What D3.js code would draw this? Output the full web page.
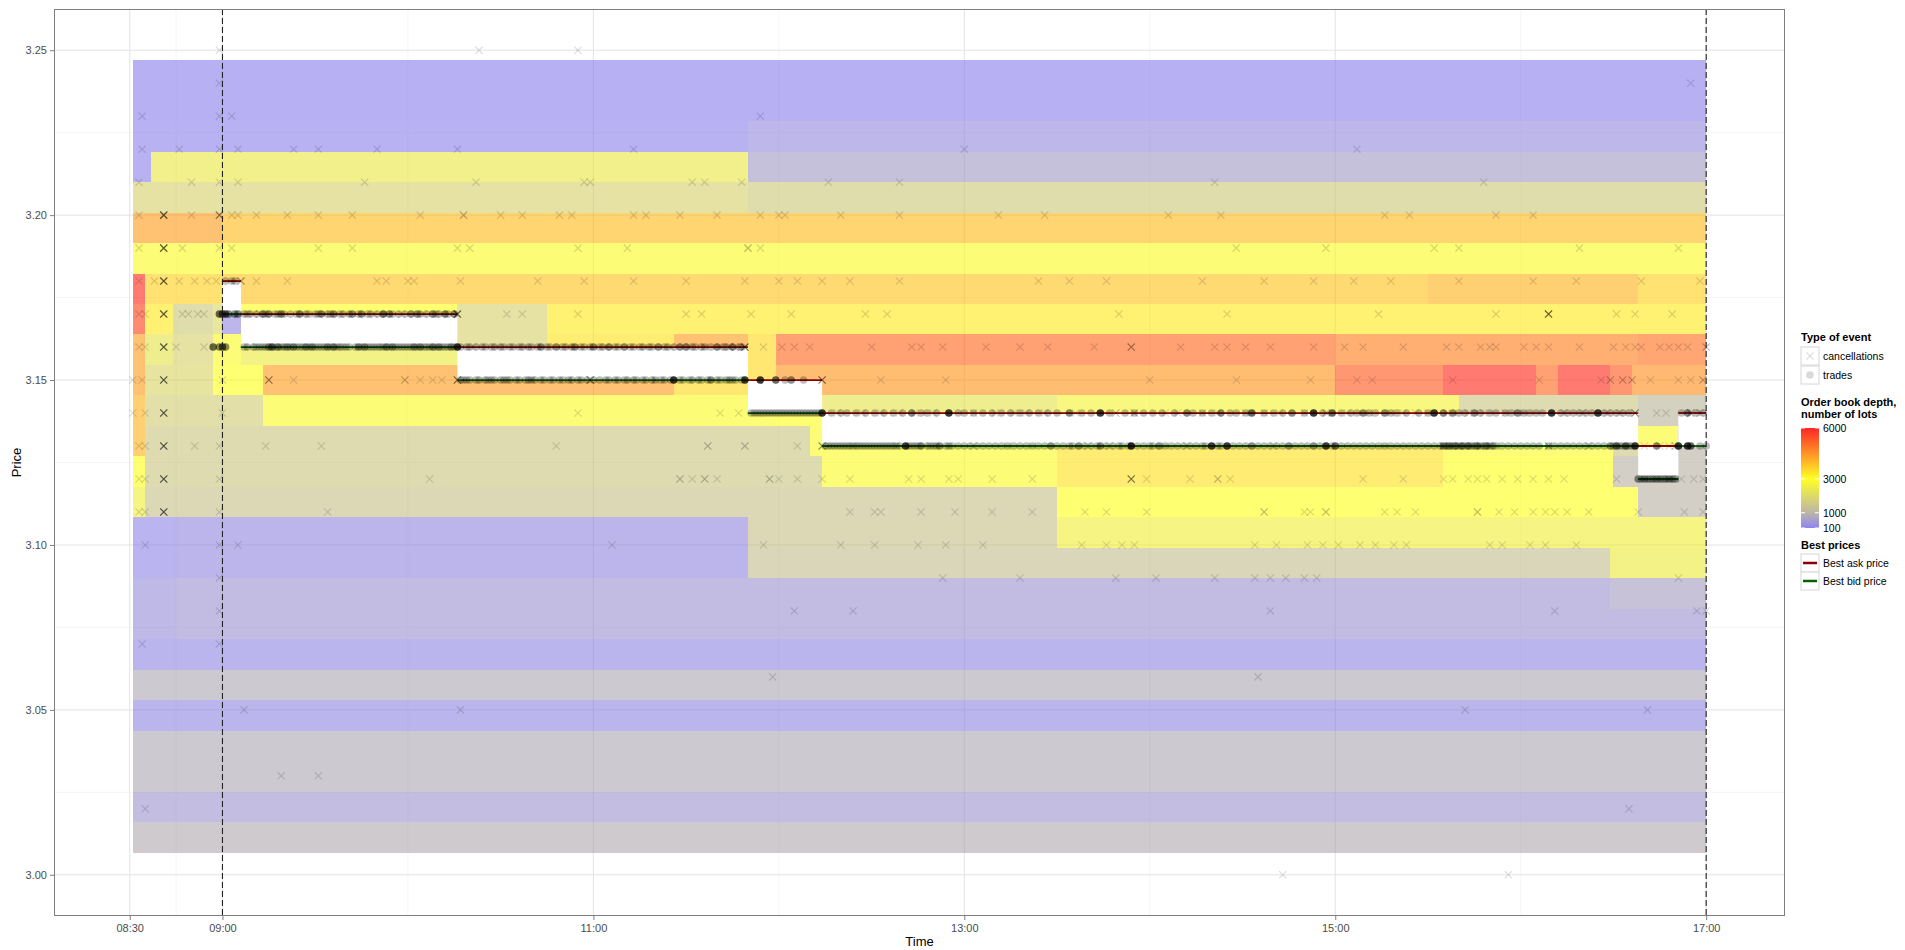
<!DOCTYPE html>
<html>
<head>
<meta charset="utf-8">
<script src="https://cdn.jsdelivr.net/npm/d3@7"></script>
<style>
  body { margin: 0; background: #fff; }
  svg { display: block; font-family: "Liberation Sans", Arial, Helvetica, sans-serif; }
</style>
</head>
<body>
<svg id="chart" width="1905" height="950"></svg>
<script>
// ---------------------------------------------------------------
// Order book snapshot for one trading day
// ---------------------------------------------------------------

// Price levels of the depth map, top to bottom
const priceLevels = [3.25, 3.24, 3.23, 3.22, 3.21, 3.20, 3.19, 3.18, 3.17, 3.16, 3.15, 3.14, 3.13,
                     3.12, 3.11, 3.10, 3.09, 3.08, 3.07, 3.06, 3.05, 3.04, 3.03, 3.02, 3.01, 3.00];
// Price span covered by the depth rows
const depthPriceSpan = [3.0067, 3.247];

// Resting depth (lots) per level: [from, to, lots]
const depthRows = [
  [3.25, [["08:31","17:00",150]]],
  [3.24, [["08:31","17:00",150]]],
  [3.23, [["08:31","11:50",170],["11:50","17:00",330]]],
  [3.22, [["08:31","08:37",170],["08:37","11:50",2400],["11:50","17:00",600]]],
  [3.21, [["08:31","11:50",1800],["11:50","17:00",1600]]],
  [3.20, [["08:31","09:00",4300],["09:00","17:00",3900]]],
  [3.19, [["08:31","17:00",2900]]],
  [3.18, [["08:31","08:35",5800],["08:35","09:00",3600],["09:00","15:30",3800],["15:30","16:38",4000],["16:38","17:00",3600]]],
  [3.17, [["08:31","08:35",5500],["08:35","08:44",3300],["08:44","08:57",1600],["08:57","09:00",2000],["09:00","09:06",300],
          ["09:06","10:16",3000],["10:16","10:45",1800],["10:45","17:00",3300]]],
  [3.16, [["08:31","08:35",4300],["08:35","08:44",2300],["08:44","08:57",1800],["08:57","09:06",2900],["09:06","10:16",2500],
          ["10:16","10:45",1800],["10:45","11:26",3400],["11:26","11:50",4300],["11:50","11:59",3500],["11:59","15:00",5000],
          ["15:00","16:38",4700],["16:38","17:00",4900]]],
  [3.15, [["08:31","08:35",4300],["08:35","08:57",1900],["08:57","09:13",3000],["09:13","11:26",4300],["11:26","11:59",3500],
          ["11:59","15:00",4400],["15:00","15:35",5200],["15:35","16:05",5800],["16:05","16:12",5000],["16:12","16:29",5800],
          ["16:29","16:36",5200],["16:36","17:00",4500]]],
  [3.14, [["08:31","08:35",4000],["08:35","09:13",1700],["09:13","11:59",2900],["11:59","12:14",3000],["12:14","13:30",2300],
          ["13:30","15:40",2700],["15:40","16:38",1500],["16:38","17:00",1100]]],
  [3.13, [["08:31","08:35",4000],["08:35","12:10",1500],["12:10","13:30",2900],["13:30","15:35",3400],["15:35","16:30",2900],
          ["16:30","16:38",1500],["16:38","16:51",2900],["16:51","17:00",1000]]],
  [3.12, [["08:31","08:35",3000],["08:35","12:14",1500],["12:14","13:30",2900],["13:30","15:35",3400],["15:35","16:30",3000],
          ["16:30","17:00",1000]]],
  [3.11, [["08:31","08:35",2600],["08:35","13:30",1400],["13:30","16:38",3000],["16:38","17:00",1000]]],
  [3.10, [["08:31","08:45",220],["08:45","11:50",280],["11:50","13:30",1400],["13:30","17:00",2600]]],
  [3.09, [["08:31","08:45",220],["08:45","11:50",280],["11:50","16:29",1300],["16:29","17:00",2500]]],
  [3.08, [["08:31","08:45",380],["08:45","16:29",480],["16:29","17:00",650]]],
  [3.07, [["08:31","08:45",380],["08:45","17:00",480]]],
  [3.06, [["08:31","17:00",250]]],
  [3.05, [["08:31","17:00",820]]],
  [3.04, [["08:31","17:00",260]]],
  [3.03, [["08:31","17:00",820]]],
  [3.02, [["08:31","17:00",820]]],
  [3.01, [["08:31","17:00",500]]],
  [3.00, [["08:31","17:00",850]]]
];

// Depth colour scale
const depthBreaks = [100, 1000, 3000, 6000];
const depthColors = ["#7b6ff0", "#b0a898", "#ffff00", "#ff0000"];
const depthLegendLabels = ["100", "1000", "3000", "6000"];

// Best quotes (step changes)
const quoteTimes = ["09:00","09:06","10:16","11:50","12:14","16:38","16:51","17:00"];
const bestAsk    = [3.18, 3.17, 3.16, 3.15, 3.14, 3.13, 3.14, 3.14];
const bestBid    = [3.17, 3.16, 3.15, 3.14, 3.13, 3.12, 3.13, 3.13];

// Session markers
const sessionBounds = ["09:00", "17:00"];

// Axis ticks
const timeTicks  = ["08:30","09:00","11:00","13:00","15:00","17:00"];
const timeMinor  = ["08:45","10:00","12:00","14:00","16:00"];
const priceTicks = [3.00, 3.05, 3.10, 3.15, 3.20, 3.25];
const priceMinor = [3.025, 3.075, 3.125, 3.175, 3.225];

// Cancellations: [time, price, count]
const cancellations = [
  ["08:59",3.25,1],["10:23",3.25,1],["10:55",3.25,1],
  ["08:59",3.24,1],["16:55",3.24,1],
  ["08:34",3.23,1],["08:59",3.23,1],["09:03",3.23,1],["11:54",3.23,1],
  ["08:34",3.22,1],["08:46",3.22,1],["08:59",3.22,1],["09:05",3.22,1],["09:23",3.22,1],["09:31",3.22,1],["09:50",3.22,1],
  ["10:16",3.22,1],["11:13",3.22,1],["13:00",3.22,1],["15:07",3.22,1],
  ["08:33",3.21,1],["08:50",3.21,1],["08:59",3.21,1],["09:05",3.21,1],["09:46",3.21,1],["10:22",3.21,1],["10:57",3.21,1],
  ["10:59",3.21,1],["11:32",3.21,1],["11:36",3.21,1],["11:48",3.21,1],["12:16",3.21,1],["12:39",3.21,1],["14:21",3.21,1],["15:48",3.21,1],
  ["08:33",3.20,1],["08:41",3.20,7],["08:50",3.20,1],["08:59",3.20,4],["09:03",3.20,1],["09:05",3.20,1],["09:11",3.20,1],
  ["09:21",3.20,1],["09:31",3.20,1],["09:42",3.20,1],["10:04",3.20,1],["10:18",3.20,2],["10:30",3.20,1],["10:37",3.20,1],
  ["10:49",3.20,1],["10:53",3.20,1],["11:13",3.20,1],["11:17",3.20,1],["11:28",3.20,1],["11:40",3.20,1],["11:54",3.20,1],
  ["12:00",3.20,1],["12:02",3.20,1],["12:20",3.20,1],["12:39",3.20,1],["13:11",3.20,1],["13:26",3.20,1],["14:06",3.20,1],
  ["14:23",3.20,1],["15:16",3.20,1],["15:24",3.20,1],["15:52",3.20,1],["16:04",3.20,1],
  ["08:33",3.19,1],["08:41",3.19,7],["08:47",3.19,1],["08:59",3.19,1],["09:03",3.19,1],["09:31",3.19,1],["09:42",3.19,1],
  ["10:16",3.19,1],["10:20",3.19,1],["10:55",3.19,1],["11:11",3.19,1],["11:50",3.19,2],["11:54",3.19,1],["14:28",3.19,1],
  ["14:57",3.19,1],["15:32",3.19,1],["15:40",3.19,1],["16:19",3.19,1],["16:51",3.19,1],
  ["08:33",3.18,1],["08:38",3.18,1],["08:41",3.18,7],["08:46",3.18,1],["08:51",3.18,1],["08:55",3.18,1],["08:58",3.18,1],
  ["09:06",3.18,3],["09:11",3.18,1],["09:21",3.18,1],["09:50",3.18,1],["09:53",3.18,1],["10:00",3.18,1],["10:02",3.18,1],
  ["10:17",3.18,1],["10:42",3.18,1],["10:57",3.18,1],["11:13",3.18,1],["11:30",3.18,1],["11:49",3.18,1],["12:00",3.18,1],
  ["12:06",3.18,1],["12:14",3.18,1],["12:23",3.18,1],["12:39",3.18,1],["13:24",3.18,1],["13:34",3.18,1],["13:46",3.18,1],
  ["14:17",3.18,1],["14:37",3.18,1],["14:53",3.18,1],["15:06",3.18,1],["15:18",3.18,1],["15:40",3.18,1],["16:04",3.18,1],
  ["16:18",3.18,1],["16:39",3.18,1],["16:58",3.18,1],
  ["08:33",3.17,1],["08:35",3.17,1],["08:41",3.17,7],["08:47",3.17,1],["08:49",3.17,1],["08:52",3.17,1],["08:54",3.17,1],
  ["09:10",3.17,1],["09:12",3.17,1],["09:26",3.17,1],["09:33",3.17,1],["09:40",3.17,1],["09:49",3.17,1],["09:58",3.17,1],
  ["10:05",3.17,1],["10:11",3.17,1],["10:16",3.17,6],["10:32",3.17,1],["10:37",3.17,1],["10:55",3.17,1],
  ["11:30",3.17,1],["11:35",3.17,1],["11:51",3.17,1],["12:04",3.17,1],["12:28",3.17,1],["12:35",3.17,1],["13:50",3.17,1],
  ["14:25",3.17,1],["15:14",3.17,1],["15:52",3.17,1],["16:09",3.17,6],["16:31",3.17,1],["16:37",3.17,1],["16:49",3.17,1],
  ["08:33",3.16,1],["08:35",3.16,1],["08:41",3.16,7],["08:45",3.16,1],["08:54",3.16,1],["09:00",3.16,1],
  ["09:09",3.16,1],["09:19",3.16,1],["09:37",3.16,1],["09:52",3.16,1],["10:07",3.16,1],
  ["10:21",3.16,1],["10:29",3.16,1],["10:38",3.16,1],["10:52",3.16,1],["11:04",3.16,1],["11:17",3.16,1],["11:31",3.16,1],
  ["11:25",3.16,1],["11:36",3.16,1],["11:41",3.16,1],["11:44",3.16,2],["11:46",3.16,1],["11:49",3.16,6],["11:55",3.16,1],
  ["12:01",3.16,1],["12:05",3.16,1],
  ["12:10",3.16,1],["12:30",3.16,1],["12:43",3.16,1],["12:46",3.16,1],["12:53",3.16,1],["13:07",3.16,1],["13:18",3.16,1],
  ["13:27",3.16,1],["13:42",3.16,1],["13:54",3.16,3],["14:10",3.16,1],["14:21",3.16,1],["14:25",3.16,1],["14:31",3.16,1],
  ["14:39",3.16,1],["14:53",3.16,1],["15:03",3.16,1],["15:09",3.16,1],["15:22",3.16,1],["15:36",3.16,1],["15:40",3.16,1],
  ["15:47",3.16,1],["15:50",3.16,1],["15:52",3.16,1],["16:01",3.16,1],["16:05",3.16,1],["16:09",3.16,1],["16:19",3.16,1],
  ["16:30",3.16,1],["16:34",3.16,1],["16:37",3.16,1],["16:39",3.16,1],["16:45",3.16,1],["16:48",3.16,1],["16:51",3.16,1],
  ["16:54",3.16,1],["17:00",3.16,2],
  ["08:31",3.15,1],["08:34",3.15,1],["08:41",3.15,7],["09:00",3.15,1],["09:15",3.15,4],["09:23",3.15,1],["09:59",3.15,2],
  ["10:04",3.15,1],["10:08",3.15,1],["10:11",3.15,1],["10:16",3.15,5],["10:24",3.15,1],["10:40",3.15,1],["10:52",3.15,1],
  ["10:59",3.15,4],["11:12",3.15,1],["11:20",3.15,1],["11:33",3.15,1],["11:43",3.15,1],["12:14",3.15,5],
  ["12:33",3.15,1],["12:54",3.15,1],["14:00",3.15,1],["14:28",3.15,1],["14:52",3.15,1],["15:07",3.15,1],["15:12",3.15,1],
  ["15:38",3.15,1],["16:06",3.15,1],["16:26",3.15,1],["16:29",3.15,2],["16:33",3.15,2],["16:36",3.15,2],["16:42",3.15,1],
  ["16:51",3.15,1],["16:55",3.15,1],["16:59",3.15,2],
  ["08:31",3.14,1],["08:35",3.14,1],["08:41",3.14,7],["09:00",3.14,1],["10:55",3.14,1],["11:41",3.14,1],["11:47",3.14,1],
  ["12:19",3.14,1],["12:27",3.14,1],["12:33",3.14,1],
  ["12:39",3.14,1],["12:44",3.14,1],["12:50",3.14,1],["13:03",3.14,1],["13:10",3.14,1],["13:16",3.14,1],["13:20",3.14,1],
  ["13:26",3.14,1],["13:36",3.14,1],["13:49",3.14,2],["13:55",3.14,2],
  ["14:05",3.14,1],["14:09",3.14,1],["14:17",3.14,1],["14:22",3.14,1],["14:31",3.14,1],["14:37",3.14,1],["14:42",3.14,1],
  ["14:50",3.14,1],["14:57",3.14,2],["15:04",3.14,1],["15:11",3.14,1],["15:18",3.14,1],["15:22",3.14,1],["15:26",3.14,1],
  ["15:30",3.14,1],["15:36",3.14,1],["15:43",3.14,1],["15:48",3.14,1],["15:55",3.14,1],["16:01",3.14,1],["16:14",3.14,1],
  ["16:20",3.14,1],["16:28",3.14,1],["16:32",3.14,1],["16:37",3.14,4],["16:44",3.14,1],["16:47",3.14,1],
  ["16:55",3.14,3],["16:58",3.14,1],
  ["08:33",3.13,1],["08:35",3.13,1],["08:41",3.13,7],["08:51",3.13,1],["08:59",3.13,1],["09:14",3.13,1],["09:32",3.13,1],
  ["10:48",3.13,1],["11:37",3.13,2],["11:49",3.13,2],["12:06",3.13,1],["12:14",3.13,4],["12:24",3.13,1],["12:38",3.13,1],
  ["12:47",3.13,1],["13:03",3.13,1],["13:14",3.13,1],["13:22",3.13,1],["13:40",3.13,1],["13:47",3.13,1],["14:05",3.13,1],
  ["14:12",3.13,1],["14:40",3.13,1],["15:16",3.13,1],["15:35",3.13,2],["15:37",3.13,2],["15:38",3.13,1],["15:40",3.13,2],
  ["15:42",3.13,1],["15:44",3.13,2],["15:45",3.13,1],["15:47",3.13,2],["15:50",3.13,2],["15:52",3.13,1],["16:09",3.13,3],
  ["16:22",3.13,1],["16:40",3.13,1],["16:45",3.13,1],["16:48",3.13,1],["16:50",3.13,2],
  ["08:33",3.12,1],["08:35",3.12,1],["08:41",3.12,7],["08:59",3.12,1],["10:07",3.12,1],["11:28",3.12,2],["11:32",3.12,1],
  ["11:36",3.12,2],["11:40",3.12,1],["11:57",3.12,2],["12:00",3.12,1],["12:06",3.12,1],["12:14",3.12,1],["12:23",3.12,1],
  ["12:42",3.12,1],["12:46",3.12,1],["12:55",3.12,1],["12:58",3.12,1],["13:09",3.12,1],["13:22",3.12,1],["13:54",3.12,5],
  ["13:59",3.12,1],["14:13",3.12,1],["14:22",3.12,2],["14:26",3.12,1],["15:09",3.12,1],["15:22",3.12,1],["15:35",3.12,1],
  ["15:38",3.12,1],["15:43",3.12,1],["15:46",3.12,1],["15:49",3.12,1],["15:54",3.12,1],["15:59",3.12,1],["16:04",3.12,1],
  ["16:09",3.12,1],["16:14",3.12,1],["16:31",3.12,1],["16:40",3.12,2],["16:44",3.12,2],["16:48",3.12,3],["16:52",3.12,1],
  ["16:56",3.12,1],["16:59",3.12,1],
  ["08:33",3.11,1],["08:35",3.11,1],["08:41",3.11,7],["08:59",3.11,1],["09:34",3.11,1],["12:23",3.11,1],["12:31",3.11,1],
  ["12:33",3.11,1],["12:46",3.11,1],["12:57",3.11,1],["13:09",3.11,1],["13:22",3.11,1],["13:39",3.11,1],["13:46",3.11,1],
  ["13:59",3.11,1],["14:37",3.11,2],["14:50",3.11,1],["14:52",3.11,1],["14:57",3.11,2],["15:16",3.11,1],["15:20",3.11,1],
  ["15:26",3.11,1],["15:46",3.11,2],["15:53",3.11,1],["15:58",3.11,1],["16:04",3.11,1],["16:08",3.11,1],["16:11",3.11,1],
  ["16:15",3.11,1],["16:22",3.11,1],["16:38",3.11,1],["16:53",3.11,1],["16:59",3.11,1],
  ["08:35",3.10,1],["08:59",3.10,1],["09:05",3.10,1],["11:06",3.10,1],["11:55",3.10,1],["12:20",3.10,1],["12:31",3.10,1],
  ["12:45",3.10,1],["12:54",3.10,1],["13:06",3.10,1],["13:38",3.10,1],["13:46",3.10,1],["13:51",3.10,1],["13:55",3.10,1],
  ["14:34",3.10,1],["14:41",3.10,1],["14:51",3.10,1],["14:56",3.10,1],["15:01",3.10,1],["15:08",3.10,1],["15:13",3.10,1],
  ["15:19",3.10,1],["15:23",3.10,1],["15:50",3.10,1],["15:54",3.10,1],["16:03",3.10,1],["16:08",3.10,1],["16:18",3.10,1],
  ["08:59",3.09,1],["12:53",3.09,1],["13:18",3.09,1],["13:49",3.09,1],["14:02",3.09,1],["14:21",3.09,1],["14:34",3.09,1],
  ["14:39",3.09,1],["14:44",3.09,1],["14:50",3.09,1],["14:54",3.09,1],["16:51",3.09,1],
  ["08:59",3.08,1],["12:05",3.08,1],["12:24",3.08,1],["14:39",3.08,1],["16:11",3.08,1],["16:57",3.08,1],["17:00",3.08,1],
  ["08:34",3.07,1],["08:59",3.07,1],
  ["11:58",3.06,1],["14:35",3.06,1],
  ["09:07",3.05,1],["10:17",3.05,1],["15:42",3.05,1],["16:41",3.05,1],
  ["09:19",3.03,1],["09:31",3.03,1],
  ["08:35",3.02,1],["16:35",3.02,1],
  ["14:43",3.00,1],["15:56",3.00,1]
];

// Trades: [time, price, count]
const trades = [
  ["08:57",3.16,3],["08:59",3.16,2],["09:00",3.16,3],["09:01",3.16,2],
  ["08:59",3.17,3],["09:00",3.17,3],["09:01",3.17,3],["09:02",3.17,2],["09:04",3.17,2],["09:05",3.17,2],
  ["09:01",3.18,1],["09:03",3.18,1],["09:04",3.18,1],
  ["09:07",3.17,1],["09:08",3.17,1],["09:09",3.17,1],["09:11",3.17,1],["09:13",3.17,2],["09:14",3.17,1],["09:15",3.17,2],
  ["09:17",3.17,1],["09:18",3.17,1],["09:19",3.17,2],["09:20",3.17,1],["09:22",3.17,1],["09:24",3.17,1],["09:25",3.17,2],
  ["09:27",3.17,1],["09:28",3.17,1],["09:30",3.17,1],["09:31",3.17,1],["09:32",3.17,2],["09:34",3.17,1],["09:35",3.17,1],
  ["09:36",3.17,2],["09:38",3.17,1],["09:39",3.17,1],["09:41",3.17,1],["09:42",3.17,2],["09:44",3.17,1],["09:45",3.17,2],
  ["09:47",3.17,1],["09:48",3.17,1],["09:50",3.17,1],["09:52",3.17,3],["09:54",3.17,2],["09:55",3.17,1],["09:57",3.17,1],
  ["09:59",3.17,1],["10:01",3.17,2],["10:03",3.17,2],["10:04",3.17,1],["10:06",3.17,1],["10:08",3.17,2],["10:09",3.17,1],
  ["10:10",3.17,1],["10:12",3.17,2],["10:13",3.17,1],["10:15",3.17,2],
  ["09:07",3.16,1],["09:08",3.16,1],["09:10",3.16,1],["09:11",3.16,1],["09:12",3.16,1],["09:13",3.16,1],["09:14",3.16,1],
  ["09:15",3.16,2],["09:16",3.16,3],["09:17",3.16,1],["09:18",3.16,2],["09:19",3.16,1],["09:20",3.16,1],["09:21",3.16,2],
  ["09:22",3.16,1],["09:23",3.16,2],["09:24",3.16,1],["09:25",3.16,1],["09:26",3.16,1],["09:27",3.16,2],["09:28",3.16,1],
  ["09:29",3.16,2],["09:30",3.16,1],["09:31",3.16,1],["09:32",3.16,1],["09:33",3.16,1],["09:34",3.16,2],["09:35",3.16,1],
  ["09:36",3.16,2],["09:37",3.16,1],["09:38",3.16,1],["09:39",3.16,1],["09:40",3.16,1],["09:41",3.16,1],["09:43",3.16,1],
  ["09:44",3.16,2],["09:45",3.16,1],["09:46",3.16,2],["09:47",3.16,1],["09:48",3.16,1],["09:49",3.16,1],["09:50",3.16,1],
  ["09:51",3.16,1],["09:52",3.16,1],["09:53",3.16,2],["09:54",3.16,1],["09:55",3.16,2],["09:56",3.16,1],["09:57",3.16,1],
  ["09:58",3.16,1],["09:59",3.16,1],["10:00",3.16,1],["10:01",3.16,1],["10:02",3.16,2],["10:03",3.16,1],["10:04",3.16,2],
  ["10:05",3.16,1],["10:06",3.16,1],["10:07",3.16,1],["10:08",3.16,2],["10:09",3.16,1],["10:10",3.16,2],["10:11",3.16,1],
  ["10:12",3.16,1],["10:13",3.16,1],["10:14",3.16,2],["10:15",3.16,1],["10:16",3.16,5],
  ["10:17",3.16,1],["10:19",3.16,1],["10:20",3.16,1],["10:22",3.16,1],["10:24",3.16,1],["10:25",3.16,1],["10:27",3.16,1],
  ["10:28",3.16,1],["10:30",3.16,1],["10:31",3.16,1],["10:33",3.16,1],["10:34",3.16,1],["10:36",3.16,1],["10:37",3.16,1],
  ["10:39",3.16,1],["10:40",3.16,1],["10:42",3.16,1],["10:43",3.16,2],["10:45",3.16,1],["10:46",3.16,1],["10:48",3.16,2],
  ["10:50",3.16,1],["10:51",3.16,1],["10:53",3.16,1],["10:54",3.16,2],["10:56",3.16,1],["10:57",3.16,1],["10:59",3.16,1],
  ["11:00",3.16,2],["11:02",3.16,1],["11:03",3.16,1],["11:05",3.16,2],["11:07",3.16,1],["11:08",3.16,1],["11:10",3.16,2],
  ["11:12",3.16,1],["11:13",3.16,1],["11:15",3.16,1],["11:16",3.16,1],["11:18",3.16,1],["11:19",3.16,1],["11:21",3.16,2],
  ["11:23",3.16,1],["11:24",3.16,1],["11:26",3.16,1],["11:28",3.16,2],["11:30",3.16,2],["11:32",3.16,1],["11:33",3.16,1],
  ["11:35",3.16,1],["11:36",3.16,1],["11:38",3.16,1],["11:40",3.16,2],["11:42",3.16,1],["11:43",3.16,1],["11:45",3.16,2],
  ["11:47",3.16,1],["11:48",3.16,1],
  ["10:17",3.15,1],["10:18",3.15,1],["10:19",3.15,1],["10:20",3.15,1],["10:22",3.15,1],["10:23",3.15,1],["10:25",3.15,1],
  ["10:26",3.15,1],["10:27",3.15,1],["10:28",3.15,1],["10:30",3.15,1],["10:31",3.15,1],["10:32",3.15,1],["10:33",3.15,1],
  ["10:35",3.15,1],["10:36",3.15,1],["10:38",3.15,1],["10:39",3.15,1],["10:40",3.15,1],["10:41",3.15,1],["10:43",3.15,1],
  ["10:44",3.15,1],["10:46",3.15,1],["10:47",3.15,1],["10:49",3.15,1],["10:50",3.15,1],["10:52",3.15,1],["10:53",3.15,1],
  ["10:55",3.15,1],["10:56",3.15,1],["10:58",3.15,1],["11:00",3.15,1],["11:02",3.15,1],["11:04",3.15,1],["11:05",3.15,1],
  ["11:07",3.15,1],["11:08",3.15,1],["11:10",3.15,1],["11:11",3.15,1],["11:13",3.15,1],["11:14",3.15,1],["11:16",3.15,1],
  ["11:17",3.15,1],["11:19",3.15,1],["11:20",3.15,1],["11:22",3.15,1],["11:23",3.15,1],["11:25",3.15,1],["11:26",3.15,5],
  ["11:28",3.15,1],["11:29",3.15,1],["11:31",3.15,1],["11:32",3.15,1],["11:34",3.15,1],["11:35",3.15,1],["11:37",3.15,1],
  ["11:38",3.15,2],["11:40",3.15,1],["11:41",3.15,1],["11:43",3.15,1],["11:44",3.15,1],["11:45",3.15,1],["11:46",3.15,1],
  ["11:48",3.15,1],["11:49",3.15,5],
  ["11:54",3.15,5],["11:59",3.15,3],["12:02",3.15,1],["12:04",3.15,2],["12:08",3.15,1],
  ["11:51",3.14,1],["11:52",3.14,1],["11:53",3.14,1],["11:54",3.14,1],["11:55",3.14,1],["11:56",3.14,1],["11:57",3.14,1],
  ["11:58",3.14,1],["11:59",3.14,1],["12:00",3.14,1],["12:01",3.14,1],["12:02",3.14,1],["12:03",3.14,1],["12:04",3.14,1],
  ["12:05",3.14,1],["12:06",3.14,1],["12:07",3.14,1],["12:08",3.14,1],["12:09",3.14,1],["12:10",3.14,1],["12:11",3.14,1],
  ["12:12",3.14,1],["12:13",3.14,1],["12:14",3.14,5],
  ["12:17",3.14,1],["12:20",3.14,1],["12:22",3.14,1],["12:25",3.14,1],["12:28",3.14,1],["12:31",3.14,1],["12:34",3.14,1],
  ["12:37",3.14,1],["12:40",3.14,1],["12:43",3.14,2],["12:46",3.14,1],["12:48",3.14,1],["12:51",3.14,1],["12:55",3.14,5],
  ["12:58",3.14,1],["13:00",3.14,1],["13:03",3.14,1],["13:06",3.14,1],["13:09",3.14,1],["13:12",3.14,1],["13:15",3.14,1],
  ["13:18",3.14,1],["13:21",3.14,1],["13:24",3.14,1],["13:27",3.14,1],["13:30",3.14,1],["13:34",3.14,2],["13:38",3.14,1],
  ["13:41",3.14,1],["13:44",3.14,5],["13:47",3.14,1],["13:52",3.14,1],["13:55",3.14,1],["13:58",3.14,1],["14:01",3.14,1],
  ["14:04",3.14,1],["14:08",3.14,1],["14:12",3.14,2],["14:14",3.14,1],["14:17",3.14,1],["14:20",3.14,1],["14:23",3.14,2],
  ["14:26",3.14,1],["14:28",3.14,1],["14:31",3.14,1],["14:33",3.14,3],["14:37",3.14,1],["14:40",3.14,1],["14:43",3.14,1],
  ["14:46",3.14,2],["14:50",3.14,1],["14:53",3.14,5],["14:56",3.14,1],["14:59",3.14,3],["15:02",3.14,1],["15:05",3.14,1],
  ["15:07",3.14,1],["15:09",3.14,2],["15:11",3.14,1],["15:13",3.14,1],["15:16",3.14,2],["15:18",3.14,1],["15:20",3.14,1],
  ["15:23",3.14,1],["15:27",3.14,1],["15:30",3.14,1],["15:32",3.14,5],["15:35",3.14,2],["15:38",3.14,2],["15:40",3.14,1],
  ["15:42",3.14,1],["15:45",3.14,2],["15:47",3.14,1],["15:50",3.14,1],["15:52",3.14,1],["15:55",3.14,1],["15:57",3.14,1],
  ["15:59",3.14,2],["16:01",3.14,1],["16:03",3.14,1],["16:05",3.14,1],["16:07",3.14,1],["16:10",3.14,5],["16:13",3.14,1],
  ["16:15",3.14,1],["16:17",3.14,1],["16:19",3.14,1],["16:21",3.14,1],["16:23",3.14,1],["16:25",3.14,5],["16:27",3.14,1],
  ["16:29",3.14,1],["16:31",3.14,1],["16:33",3.14,1],["16:35",3.14,1],
  ["12:15",3.13,1],["12:16",3.13,1],["12:17",3.13,1],["12:18",3.13,1],["12:19",3.13,1],["12:20",3.13,1],["12:21",3.13,1],
  ["12:22",3.13,1],["12:23",3.13,1],["12:24",3.13,1],["12:25",3.13,1],["12:26",3.13,1],["12:27",3.13,1],["12:28",3.13,1],
  ["12:29",3.13,1],["12:30",3.13,1],["12:31",3.13,1],["12:32",3.13,1],["12:33",3.13,1],["12:34",3.13,1],["12:35",3.13,1],
  ["12:36",3.13,1],["12:37",3.13,1],["12:38",3.13,1],["12:39",3.13,1],["12:41",3.13,5],["12:42",3.13,1],["12:43",3.13,1],
  ["12:44",3.13,1],["12:45",3.13,1],["12:46",3.13,2],["12:48",3.13,1],["12:49",3.13,1],["12:50",3.13,1],["12:51",3.13,1],
  ["12:52",3.13,2],["12:54",3.13,1],["12:55",3.13,1],["12:56",3.13,1],["12:58",3.13,1],["13:00",3.13,1],["13:02",3.13,1],
  ["13:04",3.13,1],["13:06",3.13,1],["13:08",3.13,1],["13:10",3.13,1],["13:12",3.13,1],["13:14",3.13,1],["13:16",3.13,1],
  ["13:18",3.13,1],["13:20",3.13,1],["13:22",3.13,1],["13:24",3.13,1],["13:26",3.13,1],["13:28",3.13,2],["13:30",3.13,1],
  ["13:32",3.13,1],["13:34",3.13,1],["13:35",3.13,1],["13:37",3.13,2],["13:39",3.13,1],["13:41",3.13,1],["13:43",3.13,1],
  ["13:44",3.13,2],["13:46",3.13,1],["13:48",3.13,1],["13:50",3.13,1],["13:51",3.13,1],["13:53",3.13,1],["13:54",3.13,6],
  ["13:56",3.13,1],["13:58",3.13,1],["14:00",3.13,1],["14:01",3.13,1],["14:03",3.13,2],["14:05",3.13,1],["14:07",3.13,1],
  ["14:09",3.13,1],["14:11",3.13,1],["14:13",3.13,1],["14:15",3.13,1],["14:17",3.13,1],["14:18",3.13,1],["14:20",3.13,5],
  ["14:22",3.13,1],["14:23",3.13,1],["14:25",3.13,5],["14:27",3.13,1],["14:29",3.13,1],["14:31",3.13,1],["14:33",3.13,2],
  ["14:35",3.13,1],["14:37",3.13,1],["14:39",3.13,1],["14:41",3.13,1],["14:43",3.13,1],["14:45",3.13,2],["14:47",3.13,1],
  ["14:49",3.13,1],["14:51",3.13,1],["14:53",3.13,2],["14:55",3.13,1],["14:57",3.13,5],["14:59",3.13,1],["15:00",3.13,3],
  ["15:02",3.13,1],["15:04",3.13,1],["15:06",3.13,1],["15:08",3.13,1],["15:10",3.13,1],["15:12",3.13,1],["15:14",3.13,1],
  ["15:16",3.13,1],["15:18",3.13,1],["15:20",3.13,1],["15:22",3.13,1],["15:24",3.13,1],["15:26",3.13,1],["15:28",3.13,1],
  ["15:30",3.13,1],["15:32",3.13,1],["15:34",3.13,1],["15:35",3.13,2],["15:36",3.13,1],["15:37",3.13,2],["15:38",3.13,1],
  ["15:39",3.13,2],["15:40",3.13,1],["15:41",3.13,2],["15:42",3.13,1],["15:43",3.13,2],["15:44",3.13,1],["15:45",3.13,1],
  ["15:46",3.13,2],["15:47",3.13,1],["15:48",3.13,1],["15:49",3.13,2],["15:50",3.13,1],["15:51",3.13,1],["15:52",3.13,1],
  ["15:54",3.13,1],["15:56",3.13,1],["15:58",3.13,1],["16:00",3.13,1],["16:02",3.13,1],["16:04",3.13,1],["16:06",3.13,1],
  ["16:09",3.13,1],["16:11",3.13,1],["16:13",3.13,1],["16:15",3.13,1],["16:17",3.13,1],["16:19",3.13,1],["16:21",3.13,1],
  ["16:23",3.13,1],["16:25",3.13,1],["16:27",3.13,1],["16:29",3.13,2],["16:30",3.13,1],["16:31",3.13,3],["16:32",3.13,1],
  ["16:33",3.13,1],["16:34",3.13,3],["16:35",3.13,1],["16:36",3.13,1],["16:37",3.13,5],
  ["16:44",3.13,2],["16:51",3.13,5],["16:54",3.13,5],["16:55",3.13,3],["16:58",3.13,1],["17:00",3.13,1],
  ["16:38",3.12,2],["16:39",3.12,1],["16:40",3.12,2],["16:41",3.12,1],["16:42",3.12,2],["16:43",3.12,1],["16:44",3.12,2],
  ["16:45",3.12,1],["16:46",3.12,2],["16:47",3.12,1],["16:48",3.12,2],["16:49",3.12,1],["16:50",3.12,2],
  ["16:52",3.14,1],["16:54",3.14,2],["16:57",3.14,1],["16:59",3.14,1]
];

// Legend entries
const eventTypes = ["cancellations", "trades"];
const quoteSeries = ["Best ask price", "Best bid price"];
const quoteColors = ["#8b0000", "#006400"];

// ---------------------------------------------------------------
const svg = d3.select("#chart");
const W = 1905, H = 950;
const panel = { left: 54, right: 1785, top: 9, bottom: 916 };

const T = s => d3.timeParse(s.length > 5 ? "%H:%M:%S" : "%H:%M")(s);

const x = d3.scaleTime()
  .domain([T("08:05:30"), T("17:25:30")])
  .range([panel.left, panel.right]);
const y = d3.scaleLinear()
  .domain([2.9875, 3.2625])
  .range([panel.bottom, panel.top]);
const rowBand = d3.scaleBand()
  .domain(priceLevels)
  .range([y(depthPriceSpan[1]), y(depthPriceSpan[0])])
  .paddingInner(0).paddingOuter(0);
const depthColor = d3.scaleLinear()
  .domain(depthBreaks)
  .range(depthColors)
  .interpolate(d3.interpolateRgb)
  .clamp(true);

svg.append("rect").attr("width", W).attr("height", H).attr("fill", "#fff");

// clip to the panel
svg.append("clipPath").attr("id", "panelClip")
  .append("rect")
  .attr("x", panel.left).attr("y", panel.top)
  .attr("width", panel.right - panel.left).attr("height", panel.bottom - panel.top);

const plot = svg.append("g").attr("clip-path", "url(#panelClip)");

// grid
const grid = plot.append("g");
grid.selectAll(".gxm").data(timeMinor).join("line")
  .attr("x1", d => x(T(d))).attr("x2", d => x(T(d)))
  .attr("y1", panel.top).attr("y2", panel.bottom)
  .attr("stroke", "#f5f5f5").attr("stroke-width", 1);
grid.selectAll(".gym").data(priceMinor).join("line")
  .attr("x1", panel.left).attr("x2", panel.right)
  .attr("y1", d => y(d)).attr("y2", d => y(d))
  .attr("stroke", "#f5f5f5").attr("stroke-width", 1);
grid.selectAll(".gx").data(timeTicks).join("line")
  .attr("x1", d => x(T(d))).attr("x2", d => x(T(d)))
  .attr("y1", panel.top).attr("y2", panel.bottom)
  .attr("stroke", "#e3e3e3").attr("stroke-width", 1);
grid.selectAll(".gy").data(priceTicks).join("line")
  .attr("x1", panel.left).attr("x2", panel.right)
  .attr("y1", d => y(d)).attr("y2", d => y(d))
  .attr("stroke", "#e3e3e3").attr("stroke-width", 1);

// depth map
const tiles = [];
depthRows.forEach(([level, segs]) => segs.forEach(([a, b, v]) => tiles.push({ level, a, b, v })));
plot.append("g")
  .attr("opacity", 0.55)
  .selectAll("rect").data(tiles).join("rect")
  .attr("x", d => x(T(d.a)))
  .attr("width", d => x(T(d.b)) - x(T(d.a)))
  .attr("y", d => rowBand(d.level))
  .attr("height", rowBand.bandwidth() + 0.3)
  .attr("fill", d => depthColor(d.v))
  .attr("shape-rendering", "crispEdges");

// spread between best bid and best ask
const qIdx = d3.range(quoteTimes.length);
plot.append("path")
  .datum(qIdx)
  .attr("d", d3.area()
    .curve(d3.curveStepAfter)
    .x(i => x(T(quoteTimes[i])))
    .y0(i => y(bestBid[i]))
    .y1(i => y(bestAsk[i])))
  .attr("fill", "#fff");

// best quote levels, one horizontal segment per quote period
const periods = d3.range(quoteTimes.length - 1);
[bestAsk, bestBid].forEach((series, k) => {
  plot.append("g").selectAll("line").data(periods).join("line")
    .attr("x1", i => x(T(quoteTimes[i])))
    .attr("x2", i => x(T(quoteTimes[i + 1])))
    .attr("y1", i => y(series[i]))
    .attr("y2", i => y(series[i]))
    .attr("stroke", quoteColors[k])
    .attr("stroke-width", 1.8);
});

// cancellations (crosses)
const crossPath = s => `M${-s},${-s}L${s},${s}M${-s},${s}L${s},${-s}`;
plot.append("g").selectAll("path").data(cancellations).join("path")
  .attr("transform", d => `translate(${x(T(d[0]))},${y(d[1])})`)
  .attr("d", crossPath(3.6))
  .attr("fill", "none")
  .attr("stroke", "#000")
  .attr("stroke-width", 1.2)
  .attr("stroke-opacity", d => 1 - Math.pow(1 - 0.14, d[2]));

// trades (dots)
plot.append("g").selectAll("circle").data(trades).join("circle")
  .attr("cx", d => x(T(d[0])))
  .attr("cy", d => y(d[1]))
  .attr("r", 3.8)
  .attr("fill", "#000")
  .attr("fill-opacity", d => 1 - Math.pow(1 - 0.26, d[2]));

// session bounds
plot.append("g").selectAll("line").data(sessionBounds).join("line")
  .attr("x1", d => x(T(d))).attr("x2", d => x(T(d)))
  .attr("y1", panel.top).attr("y2", panel.bottom)
  .attr("stroke", "#222").attr("stroke-width", 1.1)
  .attr("stroke-dasharray", "6,3");

// panel border
svg.append("rect")
  .attr("x", panel.left + 0.5).attr("y", panel.top + 0.5)
  .attr("width", panel.right - panel.left - 1).attr("height", panel.bottom - panel.top - 1)
  .attr("fill", "none").attr("stroke", "#7f7f7f").attr("stroke-width", 1);

// axes
const xAxis = d3.axisBottom(x)
  .tickValues(timeTicks.map(T))
  .tickFormat(d3.timeFormat("%H:%M"))
  .tickSize(4).tickPadding(4);
const gx = svg.append("g").attr("transform", `translate(0,${panel.bottom})`).call(xAxis);
gx.select(".domain").remove();
gx.selectAll(".tick line").attr("stroke", "#7f7f7f");
gx.selectAll(".tick text").attr("fill", "#4d4d4d").attr("font-size", 11)
  .attr("font-family", "Liberation Sans, Arial, sans-serif");

const yAxis = d3.axisLeft(y)
  .tickValues(priceTicks)
  .tickFormat(d3.format(".2f"))
  .tickSize(4).tickPadding(3);
const gy = svg.append("g").attr("transform", `translate(${panel.left},0)`).call(yAxis);
gy.select(".domain").remove();
gy.selectAll(".tick line").attr("stroke", "#7f7f7f");
gy.selectAll(".tick text").attr("fill", "#4d4d4d").attr("font-size", 11)
  .attr("font-family", "Liberation Sans, Arial, sans-serif");

svg.append("text")
  .attr("x", (panel.left + panel.right) / 2).attr("y", 946)
  .attr("text-anchor", "middle").attr("font-size", 13).attr("fill", "#000")
  .text("Time");
svg.append("text")
  .attr("transform", `translate(21,${(panel.top + panel.bottom) / 2}) rotate(-90)`)
  .attr("text-anchor", "middle").attr("font-size", 13).attr("fill", "#000")
  .text("Price");

// legend
const lg = svg.append("g").attr("font-size", 10.5).attr("fill", "#000");
const lx = 1801;

lg.append("text").attr("x", lx).attr("y", 341).attr("font-weight", "bold").attr("font-size", 11)
  .text("Type of event");
eventTypes.forEach((name, i) => {
  const ky = 347 + i * 19;
  lg.append("rect").attr("x", lx).attr("y", ky).attr("width", 18).attr("height", 18)
    .attr("fill", "#fff").attr("stroke", "#d6d6d6").attr("stroke-width", 1);
  if (i === 0) {
    lg.append("path").attr("transform", `translate(${lx + 9},${ky + 9})`)
      .attr("d", crossPath(3.6)).attr("stroke", "#000").attr("stroke-opacity", 0.14)
      .attr("stroke-width", 1.2).attr("fill", "none");
  } else {
    lg.append("circle").attr("cx", lx + 9).attr("cy", ky + 9).attr("r", 3.8)
      .attr("fill", "#000").attr("fill-opacity", 0.15);
  }
  lg.append("text").attr("x", lx + 22).attr("y", ky + 13).text(name);
});

lg.append("text").attr("x", lx).attr("y", 406).attr("font-weight", "bold").attr("font-size", 11)
  .text("Order book depth,");
lg.append("text").attr("x", lx).attr("y", 418).attr("font-weight", "bold").attr("font-size", 11)
  .text("number of lots");

const barScale = d3.scaleLinear().domain([depthBreaks[0], depthBreaks[depthBreaks.length - 1]]).range([528, 428]);
const grad = svg.append("defs").append("linearGradient").attr("id", "depthGrad")
  .attr("x1", 0).attr("y1", 1).attr("x2", 0).attr("y2", 0);
depthBreaks.forEach((v, i) => {
  grad.append("stop")
    .attr("offset", (v - depthBreaks[0]) / (depthBreaks[depthBreaks.length - 1] - depthBreaks[0]))
    .attr("stop-color", depthColors[i]);
});
lg.append("rect").attr("x", lx).attr("y", barScale(6000)).attr("width", 18)
  .attr("height", barScale(100) - barScale(6000)).attr("fill", "url(#depthGrad)")
  .attr("opacity", 0.85);
depthBreaks.forEach(v => {
  lg.append("line").attr("x1", lx).attr("x2", lx + 4).attr("y1", barScale(v)).attr("y2", barScale(v))
    .attr("stroke", "#fff").attr("stroke-width", 1);
  lg.append("line").attr("x1", lx + 14).attr("x2", lx + 18).attr("y1", barScale(v)).attr("y2", barScale(v))
    .attr("stroke", "#fff").attr("stroke-width", 1);
});
depthLegendLabels.forEach((lab, i) => {
  lg.append("text").attr("x", lx + 22).attr("y", barScale(depthBreaks[i]) + 4).text(lab);
});

lg.append("text").attr("x", lx).attr("y", 549).attr("font-weight", "bold").attr("font-size", 11)
  .text("Best prices");
quoteSeries.forEach((name, i) => {
  const ky = 554 + i * 18;
  lg.append("rect").attr("x", lx).attr("y", ky).attr("width", 18).attr("height", 18)
    .attr("fill", "#fff").attr("stroke", "#d6d6d6").attr("stroke-width", 1);
  lg.append("line").attr("x1", lx + 2).attr("x2", lx + 16).attr("y1", ky + 9).attr("y2", ky + 9)
    .attr("stroke", quoteColors[i]).attr("stroke-width", 2.5);
  lg.append("text").attr("x", lx + 22).attr("y", ky + 13).text(name);
});
</script>
</body>
</html>
